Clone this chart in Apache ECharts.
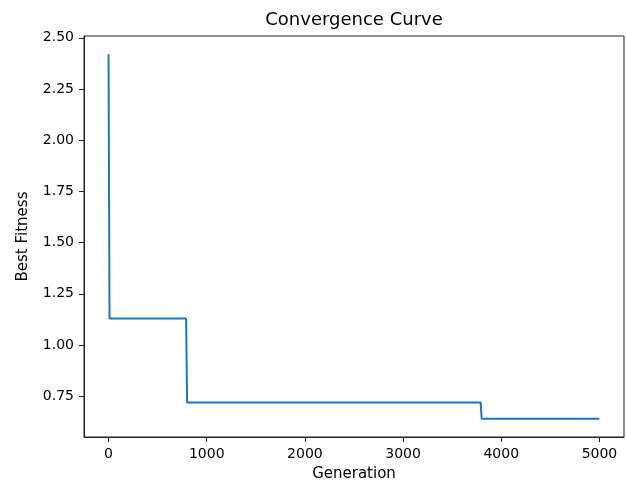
<!DOCTYPE html>
<html>
<head>
<meta charset="utf-8">
<script src="https://cdn.jsdelivr.net/npm/echarts@6/dist/echarts.min.js"></script>
<style>html,body{margin:0;padding:0;background:#fff;}#c{width:626px;height:482px;}</style>
</head>
<body>
<div id="c"></div>
<script>
const generations = [0, 8, 10, 790, 800, 3790, 3800, 4999];
const bestFitness = [2.42, 2.42, 1.13, 1.13, 0.72, 0.72, 0.64, 0.64];
const xTicks = [0, 1000, 2000, 3000, 4000, 5000];
const yTicks = [0.75, 1.00, 1.25, 1.50, 1.75, 2.00, 2.25, 2.50];

const font = 'DejaVu Sans';
const chart = echarts.init(document.getElementById('c'), null, {renderer: 'canvas'});
chart.setOption({
  animation: false,
  backgroundColor: '#fff',
  title: {
    text: 'Convergence Curve', left: 349, top: 6, textAlign: 'center',
    textStyle: {fontFamily: font, fontSize: 18, fontWeight: 'normal', color: '#000'}
  },
  grid: {left: 84, right: 2, top: 36, bottom: 45, show: true, borderColor: '#222', borderWidth: 1,
    containLabel: false, outerBoundsMode: 'none'},
  xAxis: {
    type: 'value', min: -250, max: 5250,
    name: 'Generation', nameLocation: 'middle', nameGap: 30,
    nameTextStyle: {fontFamily: font, fontSize: 15, color: '#000'},
    axisLine: {show: true, onZero: false, lineStyle: {color: '#222', width: 1}},
    axisTick: {show: true, inside: false, length: 5, lineStyle: {color: '#222'}, customValues: xTicks},
    axisLabel: {fontFamily: font, fontSize: 14, color: '#000', margin: 10, customValues: xTicks,
      formatter: v => String(Math.round(v))},
    splitLine: {show: false}
  },
  yAxis: {
    type: 'value', min: 0.551, max: 2.509,
    name: 'Best Fitness', nameLocation: 'middle', nameGap: 53, nameRotate: 90,
    nameTextStyle: {fontFamily: font, fontSize: 15, color: '#000'},
    axisLine: {show: true, onZero: false, lineStyle: {color: '#222', width: 1}},
    axisTick: {show: true, inside: false, length: 5, lineStyle: {color: '#222'}, customValues: yTicks},
    axisLabel: {fontFamily: font, fontSize: 14, color: '#000', margin: 10, customValues: yTicks,
      formatter: v => v.toFixed(2)},
    splitLine: {show: false}
  },
  series: [{
    type: 'line',
    data: generations.map((g, i) => [g, bestFitness[i]]),
    showSymbol: false,
    lineStyle: {color: '#1f77b4', width: 2},
    itemStyle: {color: '#1f77b4'}
  }]
});
</script>
</body>
</html>
